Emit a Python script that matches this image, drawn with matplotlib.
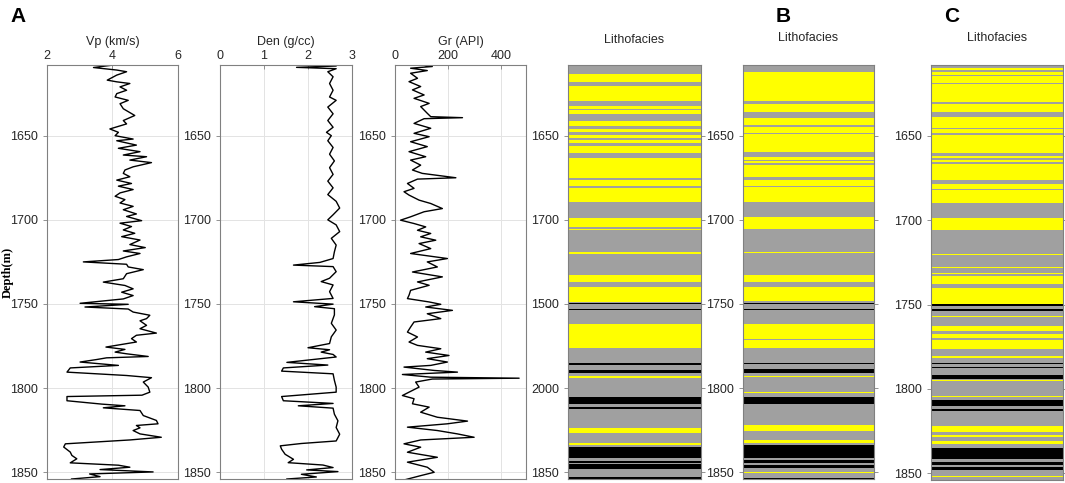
import matplotlib
matplotlib.use("Agg")
import matplotlib.pyplot as plt
from matplotlib.colors import ListedColormap
import numpy as np

plt.rcParams['font.family'] = ['Liberation Sans', 'DejaVu Sans']
plt.rcParams['font.size'] = 9

# ---- well logs (depth in m) ----
vp_depth = [1608, 1609.5, 1611, 1612, 1614, 1617, 1618, 1619, 1621, 1623, 1625, 1627, 1629, 1631,
            1634, 1638, 1641, 1643, 1646, 1648, 1650, 1652, 1653, 1655.6, 1657.5, 1659.5, 1661.5,
            1662.5, 1664.5, 1666, 1668.5, 1670.4, 1672.4, 1674.4, 1676.4, 1678.4, 1680, 1682, 1684,
            1686, 1688, 1690, 1692, 1694, 1696.5, 1698, 1700.5, 1702, 1704, 1706, 1708, 1710, 1712,
            1714.7, 1716.5, 1718.5, 1720, 1722, 1723.6, 1725, 1726.4, 1728, 1729.6, 1732, 1735, 1737,
            1739, 1741, 1743, 1745, 1747, 1749.6, 1750.2, 1751.8, 1753, 1754.8, 1756.7, 1758.7, 1760,
            1762.7, 1764.7, 1767.3, 1768.6, 1770.6, 1772.6, 1775.6, 1777, 1778.6, 1779.6, 1781.2, 1782,
            1783, 1784.5, 1786.5, 1788, 1790.5, 1792.5, 1793.8, 1796.4, 1799.4, 1802.4, 1804.2, 1805,
            1807.5, 1809.5, 1810.5, 1811.7, 1813.3, 1816.3, 1819.2, 1821.2, 1822.2, 1823.6, 1825.2,
            1827.2, 1829.2, 1830.8, 1832.2, 1833.1, 1835, 1838, 1840, 1842, 1844.4, 1845.8, 1847,
            1848.4, 1849.8, 1851, 1852.6, 1854]
vp = [4.03, 3.42, 4.13, 4.43, 4.13, 3.84, 4.13, 4.53, 4.23, 4.43, 4.13, 4.08, 4.48, 4.23,
      4.33, 4.68, 4.33, 4.43, 3.92, 4.18, 4.08, 4.63, 4.13, 4.73, 4.18, 4.84, 4.33,
      5.04, 4.53, 5.19, 4.63, 4.38, 4.33, 4.53, 4.13, 4.58, 4.18, 4.63, 4.23,
      4.08, 4.38, 4.23, 4.63, 4.33, 4.73, 4.43, 4.89, 4.23, 4.58, 4.33, 4.68, 4.28, 4.84,
      4.53, 5.0, 4.33, 4.84, 4.43, 4.18, 3.11, 4.43, 4.48, 4.94, 4.43, 4.33, 3.72,
      4.38, 4.63, 4.28, 4.63, 4.33, 3.01, 4.48, 3.16, 4.48, 4.63, 5.14, 5.04, 4.84,
      5.04, 4.84, 5.34, 4.73, 4.58, 4.73, 3.80, 4.38, 4.08, 4.43, 5.09, 3.82,
      3.52, 3.01, 4.18, 2.71, 2.61, 4.43, 5.19, 4.94, 5.09, 5.14, 4.9, 2.61,
      2.61, 3.67, 4.38, 3.72, 4.84, 4.94, 5.34, 5.39, 4.73, 4.84, 4.63,
      4.84, 5.49, 4.53, 3.32, 2.56, 2.51, 2.71, 2.76, 2.91, 2.71, 4.18, 4.53,
      3.62, 5.24, 3.3, 3.62, 2.75]

den_depth = [1608, 1608.6, 1609.4, 1610.2, 1612, 1615, 1619, 1623, 1627, 1629, 1633, 1637, 1641,
             1645, 1648, 1650, 1653, 1657, 1661, 1665, 1669, 1673, 1677, 1681, 1685, 1689, 1693,
             1697, 1700, 1703, 1707, 1711, 1715, 1719, 1723, 1725.3, 1726.9, 1727.8, 1730.8, 1734.7,
             1736.7, 1738.7, 1742.7, 1746.7, 1748.7, 1750.1, 1751.6, 1752.8, 1756.5, 1761.5, 1765.5,
             1769.5, 1773.5, 1776, 1777.2, 1778.6, 1780, 1781.5, 1783.1, 1784.7, 1786.3, 1788,
             1789.9, 1791.5, 1795.4, 1799.4, 1802.4, 1805, 1807.5, 1809.1, 1810.5, 1811.9, 1815.5,
             1819.4, 1823.4, 1827.4, 1831.4, 1832.9, 1834.3, 1836.3, 1839.3, 1842.3, 1844.3, 1845.7,
             1847.2, 1848.6, 1849.6, 1851.2, 1852.8, 1854]
den = [2.64, 2.64, 1.74, 2.64, 2.45, 2.57, 2.49, 2.57, 2.49, 2.64, 2.45, 2.57, 2.45,
       2.57, 2.42, 2.53, 2.45, 2.57, 2.49, 2.6, 2.49, 2.57, 2.45, 2.57, 2.45, 2.64, 2.72,
       2.57, 2.45, 2.64, 2.72, 2.53, 2.64, 2.6, 2.57, 2.27, 1.67, 2.57, 2.64, 2.49,
       2.30, 2.57, 2.49, 2.57, 1.67, 2.57, 2.15, 2.6, 2.6, 2.53, 2.64,
       2.53, 2.49, 2.0, 2.49, 2.3, 2.57, 2.64, 2.08, 1.52, 2.45, 1.44,
       1.40, 2.57, 2.6, 2.64, 2.64, 1.40, 1.44, 2.57, 1.78, 2.57, 2.6,
       2.68, 2.64, 2.72, 2.64, 1.85, 1.37, 1.40, 1.48, 1.67, 1.55, 2.34,
       2.57, 1.97, 2.68, 1.85, 2.19, 1.52]

gr_depth = [1607.9, 1608.9, 1609.9, 1611.3, 1612.9, 1615.9, 1617.9, 1620.8, 1622.8, 1625.8,
            1627.8, 1630.8, 1632.7, 1636.7, 1638.7, 1639.3, 1639.9, 1642.7, 1645.6, 1648.6,
            1650.6, 1653.6, 1656.5, 1659.5, 1662.5, 1664.5, 1667.5, 1670.4, 1672.4, 1675.0,
            1675.8, 1678.4, 1681.3, 1683.3, 1685.3, 1688.3, 1690.3, 1693.3, 1695.2, 1698.2,
            1700.2, 1702.2, 1704.2, 1706.2, 1708.1, 1710.1, 1712.1, 1714.1, 1717.1, 1720.0,
            1723.0, 1725.0, 1728.0, 1731.0, 1733.9, 1736.9, 1738.9, 1741.9, 1744.8, 1746.8,
            1748.8, 1750.2, 1751.8, 1753.8, 1755.8, 1758.7, 1760.7, 1763.7, 1766.7, 1769.6,
            1772.6, 1774.6, 1776.6, 1778.6, 1780.6, 1782.5, 1784.5, 1786.5, 1787.5, 1789.5,
            1790.5, 1791.9, 1793.5, 1794.1, 1794.6, 1796.4, 1799.4, 1802.4, 1804.4, 1806.3,
            1809.3, 1811.3, 1814.3, 1817.3, 1819.6, 1821.2, 1823.2, 1825.2, 1827.2, 1829.2,
            1830.8, 1833.1, 1835.1, 1838.1, 1841.1, 1844.0, 1847.0, 1850.0, 1852.0, 1854.6]
gr = [97, 141, 59, 122, 59, 85, 53, 97, 66, 110,
      72, 129, 97, 122, 135, 255, 110, 72, 135, 72,
      129, 59, 122, 53, 116, 59, 97, 66, 103, 230,
      85, 47, 72, 34, 53, 91, 135, 179, 110, 59,
      21, 72, 116, 85, 135, 97, 154, 91, 135, 59,
      198, 122, 160, 66, 179, 85, 129, 59, 53, 47,
      129, 173, 116, 217, 122, 173, 72, 59, 47, 85,
      53, 85, 173, 116, 204, 122, 198, 135, 34, 148,
      236, 28, 135, 469, 141, 78, 91, 53, 28, 72,
      66, 129, 97, 160, 274, 198, 47, 160, 236, 299,
      97, 34, 97, 47, 160, 47, 122, 148, 97, 34]

# ---- lithofacies: layer tops (last value = base), code 0 grey, 1 yellow, 2 black ----
lith_a_tops = [1608, 1613.3, 1617.9, 1620.2, 1629.4, 1632.3, 1633.9, 1634.9, 1637.3, 1641.3, 1644.2,
               1646.2, 1648, 1649.4, 1651.4, 1652.6, 1654.6, 1656, 1660.1, 1663.1, 1675, 1676.4, 1680,
               1681.2, 1689.3, 1699.2, 1704.2, 1705.2, 1706.2, 1719.4, 1720.4, 1733, 1737, 1739.9,
               1748.8, 1749.2, 1750.2, 1752.8, 1753.8, 1762, 1776.2, 1785, 1786, 1789.1, 1791.1, 1793,
               1794, 1805, 1809.3, 1811, 1812.3, 1823.8, 1826.8, 1832.7, 1833.7, 1834.7, 1841.7,
               1843.1, 1844.2, 1845.2, 1847.8, 1853, 1854]
lith_a = [0, 1, 0, 1, 0, 1, 0, 1, 0, 1, 0,
          1, 0, 1, 0, 1, 0, 1, 0, 1, 0, 1, 0,
          1, 0, 1, 0, 1, 0, 1, 0, 1, 0, 1,
          0, 2, 0, 2, 0, 1, 0, 2, 0, 2, 0, 1,
          0, 2, 0, 2, 0, 1, 0, 1, 0, 2, 0,
          2, 0, 2, 0, 2]

lith_b_tops = [1608, 1612.3, 1629.4, 1631.3, 1635.7, 1639.7, 1643.7, 1644.6, 1648.2, 1649.2, 1659.9,
               1662.5, 1664.5, 1665.3, 1666.5, 1667.5, 1674.4, 1676.4, 1680.0, 1680.5, 1689.3, 1698.2,
               1705.4, 1719, 1719.8, 1733, 1737, 1740, 1748.2, 1749.4, 1750.2, 1752.8, 1753.6, 1762.1,
               1771, 1771.5, 1776.2, 1785.1, 1785.9, 1788.5, 1790.9, 1792.5, 1793.5, 1802.4, 1803,
               1805, 1809.3, 1821.8, 1825.2, 1830.8, 1832.4, 1834, 1841.7, 1842.7, 1844.6, 1845.6,
               1847.2, 1849.9, 1850.5, 1853.4, 1854]
lith_b = [0, 1, 0, 1, 0, 1, 0, 1, 0, 1, 0,
          1, 0, 1, 0, 1, 0, 1, 0, 1, 0, 1,
          0, 1, 0, 1, 0, 1, 0, 2, 0, 2, 0, 1,
          0, 1, 0, 2, 0, 2, 0, 1, 0, 1, 0,
          2, 0, 1, 0, 1, 0, 2, 0, 2, 0, 2,
          0, 1, 0, 2]

lith_c_tops = [1608, 1610, 1611, 1612, 1614, 1614.4, 1615.5, 1615.9, 1618.8, 1619.3, 1629.8, 1631.2,
               1635.9, 1639.1, 1645.6, 1646.2, 1648.6, 1649.4, 1660.1, 1662.1, 1662.9, 1664.1, 1665.7,
               1666.5, 1676.4, 1678.4, 1681.6, 1682, 1689.7, 1698.6, 1700.2, 1700.6, 1705.8, 1720,
               1720.8, 1728, 1728.6, 1731, 1731.7, 1733.1, 1737.9, 1740.3, 1749.4, 1749.8, 1750.8,
               1752.8, 1753.8, 1756.8, 1757.3, 1762.7, 1765.7, 1767.7, 1769.7, 1771.2, 1776.6, 1780.6,
               1781.4, 1784.5, 1785.5, 1787.1, 1787.9, 1791.5, 1793.9, 1794.7, 1795.5, 1804.4, 1805,
               1806.5, 1809.9, 1812, 1813, 1821.8, 1825.8, 1827.4, 1828.4, 1830.8, 1832.8, 1835,
               1841.7, 1843.1, 1844.9, 1846, 1848, 1851.6, 1852.4, 1854]
lith_c = [0, 1, 0, 1, 0, 1, 0, 1, 0, 1, 0, 1,
          0, 1, 0, 1, 0, 1, 0, 1, 0, 1, 0,
          1, 0, 1, 0, 1, 0, 1, 0, 1, 0, 1,
          0, 1, 0, 1, 0, 1, 0, 1, 0, 2, 0,
          2, 0, 1, 0, 1, 0, 1, 0, 1, 0, 1,
          0, 2, 0, 2, 0, 2, 0, 1, 0, 1, 0,
          2, 0, 2, 0, 1, 0, 1, 0, 1, 0, 2,
          0, 2, 0, 2, 0, 1, 0]

depth_ticks = [1650, 1700, 1750, 1800, 1850]
lith_a_ticklabels = ['1650', '1700', '1500', '2000', '1850']

W, H = 1065, 483
fig = plt.figure(figsize=(W / 100, H / 100), dpi=100)
text_c = '#262626'
edge_c = '#808080'
ytop, ybot = 1608, 1854


def box(x0, x1, y0=65, y1=479):
    return [x0 / W, 1 - y1 / H, (x1 - x0) / W, (y1 - y0) / H]


def style(ax):
    for s in ax.spines.values():
        s.set_color(edge_c)
        s.set_linewidth(0.8)
    ax.set_ylim(ybot, ytop)
    ax.set_yticks(depth_ticks)
    ax.tick_params(axis='y', direction='out', length=3, width=0.6, colors=edge_c,
                   labelcolor=text_c, labelsize=9)


def log_track(x0, x1, x, d, xlim, xticks, label):
    ax = fig.add_axes(box(x0, x1))
    ax.plot(x, d, color='black', lw=1.0)
    style(ax)
    ax.set_xlim(*xlim)
    ax.set_xticks(xticks)
    ax.xaxis.tick_top()
    ax.xaxis.set_label_position('top')
    ax.set_xlabel(label, color=text_c, fontsize=9, labelpad=4)
    ax.tick_params(axis='x', direction='in', length=3, width=0.6, colors=edge_c,
                   labelcolor=text_c, labelsize=9, pad=2)
    ax.grid(True, color='#e3e3e3', lw=0.7)
    ax.set_axisbelow(True)
    return ax


lith_cmap = ListedColormap(['#a0a0a0', '#ffff00', '#000000'])


def lith_track(x0, x1, tops, codes, y1=479, title_pad=17):
    ax = fig.add_axes(box(x0, x1, y1=y1))
    ax.pcolormesh([0, 1], tops, np.array(codes)[:, None], cmap=lith_cmap, vmin=-0.5, vmax=2.5)
    style(ax)
    ax.set_xlim(0, 1)
    ax.set_xticks([])
    ax.tick_params(axis='y', right=True, which='major')
    ax.set_title('Lithofacies', color=text_c, fontsize=9, pad=title_pad)
    return ax


log_track(47, 178, vp, vp_depth, (2, 6), [2, 4, 6], 'Vp (km/s)')
fig.text(8 / W, 1 - 272 / H, 'Depth(m)', family=['Liberation Serif', 'DejaVu Serif'],
         fontweight='bold', fontsize=9, rotation=90, ha='center', va='center')
log_track(220, 352, den, den_depth, (0, 3), [0, 1, 2, 3], 'Den (g/cc)')
log_track(395, 526, gr, gr_depth, (0, 495), [0, 200, 400], 'Gr (API)')

axa = lith_track(568, 701, lith_a_tops, lith_a, title_pad=16)
axa.set_yticklabels(lith_a_ticklabels)
lith_track(743, 874, lith_b_tops, lith_b, title_pad=17)
lith_track(931, 1063, lith_c_tops, lith_c, y1=480, title_pad=17)

for lab, xp in [('A', 10), ('B', 776), ('C', 944)]:
    fig.text(xp / W, 1 - 16 / H, lab, fontsize=15, fontweight='bold', va='center', ha='left')

fig.savefig('out.png', dpi=100)
